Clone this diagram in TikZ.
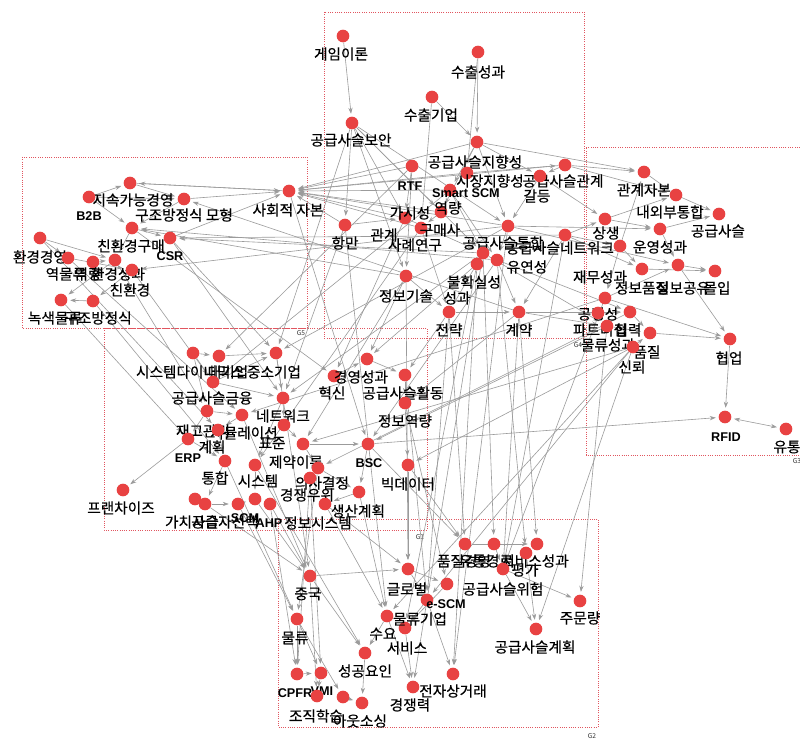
\documentclass[tikz,border=0pt]{standalone}
\usepackage{fontspec}
\setmainfont{Noto Sans CJK KR}
\newfontfamily\krb{Noto Sans CJK KR}[FakeBold=0.4]
\newfontfamily\latf{Liberation Sans}
\usetikzlibrary{arrows.meta}
\pgfdeclarelayer{bg}
\pgfsetlayers{bg,main}
\definecolor{dotred}{RGB}{232,66,66}
\definecolor{lnkgray}{RGB}{155,155,155}
\definecolor{boxred}{RGB}{225,85,95}
\newcommand\nd[4]{\node[rdot] (#1) at (#2) {}; \node[lbl] (#1-l) at (#3) {#4};}
\newcommand\lt[1]{{\latf\bfseries\fontsize{9.5}{10}\selectfont #1}}
\begin{document}
\begin{tikzpicture}[x=0.75pt,y=-0.75pt,
  rdot/.style={circle,fill=dotred,minimum size=9.5pt,inner sep=0pt},
  lbl/.style={font=\krb\fontsize{11}{12}\selectfont,inner sep=0pt,text=black},
  glab/.style={font=\fontsize{5}{5}\selectfont,inner sep=0pt,text=black!80},
  lnk/.style={draw=lnkgray,line width=0.45pt,-{Stealth[length=4.5pt,width=3.2pt]},shorten >=2pt},
  grp/.style={draw=boxred,densely dotted,line width=0.7pt}]
\useasboundingbox (0,0) rectangle (800,741);

% ---------- G5 ----------
\nd{jsg}{130,183}{133,200}{지속가능경영}
\nd{btb}{89,197}{89,216}{\lt{B2B}}
\nd{gjm}{184,199}{184,215}{구조방정식 모형}
\nd{shj}{289,191}{288,210}{사회적 자본}
\nd{chg}{132,228}{131,246}{친환경구매}
\nd{csr}{170,238}{170,256}{\lt{CSR}}
\nd{hgg}{40,238}{40,257}{환경경영}
\nd{ymr}{68,258}{66,274}{역물류}
\nd{yr}{93,262}{88,274}{역량}
\nd{hgs}{115,260}{118,274}{환경성과}
\nd{chk}{132,270}{130,290}{친환경}
\nd{nsm}{61,300}{55,318}{녹색물류}
\nd{gjb}{93,301}{98,318}{구조방정식}

% ---------- top centre ----------
\nd{gim}{343,36}{341,54}{게임이론}
\nd{gsb}{352,123}{351,140}{공급사슬보안}
\nd{scs}{478,52}{478,72}{수출성과}
\nd{scg}{432,97}{431,115}{수출기업}
\nd{gsj}{477,142}{475,162}{공급사슬지향성}
\nd{sjj}{467,173}{490,181}{시장지향성}
\nd{gsg}{565,165}{563,181}{공급사슬관계}
\nd{gd}{540,176}{537,196}{갈등}
\nd{rtf}{412,166}{410,186}{\lt{RTF}}
\nd{sms}{450,190}{466,193}{\lt{Smart SCM}}
\nd{yrt}{441,212}{448,208}{역량}
\nd{gss}{405,218}{410,213}{가시성}
\nd{gms}{421,228}{440,230}{구매사}
\node[lbl] (gg-l) at (384,235) {관계};
\node[lbl] (sry-l) at (415,245) {사례연구};
\nd{hm}{345,225}{345,243}{항만}
\nd{gst}{508,226}{503,243}{공급사슬통합}
\nd{gsn}{565,235}{560,248}{공급사슬네트워크}
\nd{jbg}{406,276}{406,296}{정보기술}
\nd{bhs}{483,253}{474,282}{불확실성}
\nd{sg}{477,264}{457,298}{성과}
\nd{yys}{497,260}{527,267}{유연성}
\nd{jr}{449,312}{449,330}{전략}
\nd{gy}{519,312}{519,330}{계약}

% ---------- right ----------
\nd{ggj}{644,172}{644,190}{관계자본}
\nd{nwb}{676,195}{670,212}{내외부통합}
\nd{gs}{719,214}{718,231}{공급사슬}
\nd{wys}{660,229}{660,247}{운영성과}
\nd{ss}{605,219}{606,233}{상생}
\nd{jms}{620,246}{600,277}{재무성과}
\nd{gjs}{605,298}{598,314}{공정성}
\nd{ptn}{598,313}{600,330}{파트너십}
\nd{hr}{630,312}{628,330}{협력}
\nd{mrs}{607,326}{608,345}{물류성과}
\nd{pj}{650,333}{647,352}{품질}
\nd{sr}{633,347}{632,367}{신뢰}
\nd{jbp}{642,269}{642,288}{정보품질}
\nd{jbgy}{678,265}{683,288}{정보공유}
\nd{mi}{715,271}{717,288}{몰입}
\nd{hu}{730,339}{729,358}{협업}
\nd{rfid}{725,417}{726,437}{\lt{RFID}}
\nd{yt}{786,429}{787,447}{유통}

% ---------- G1 ----------
\nd{sd}{193,353}{190,372}{시스템다이내믹스}
\nd{dg}{219,356}{228,372}{대기업}
\nd{jsk}{276,353}{274,372}{중소기업}
\nd{gsf}{213,382}{212,398}{공급사슬금융}
\nd{nw}{283,398}{283,416}{네트워크}
\nd{jgg}{207,411}{203,431}{재고관리}
\nd{sml}{242,415}{244,433}{시뮬레이션}
\nd{gh}{218,430}{212,447}{계획}
\nd{erp}{188,439}{188,458}{\lt{ERP}}
\nd{pj2}{284,425}{272,443}{표준}
\nd{jyi}{303,444}{296,462}{제약이론}
\nd{bsc}{368,444}{369,463}{\lt{BSC}}
\nd{th}{225,461}{215,478}{통합}
\nd{sst}{255,465}{258,481}{시스템}
\nd{ysg}{318,468}{322,483}{의사결정}
\nd{gjw}{310,478}{307,495}{경쟁우위}
\nd{sngh}{359,492}{358,511}{생산계획}
\nd{jbs}{325,504}{318,523}{정보시스템}
\nd{ahp}{270,504}{269,523}{\lt{AHP}}
\nd{scm1}{255,499}{245,518}{\lt{SCM}}
\nd{gjss}{238,504}{225,522}{공급자선택}
\nd{gcs}{205,504}{192,522}{가치사슬}
\node[rdot] (xd1) at (195,499) {};
\nd{frc}{123,490}{121,508}{프랜차이즈}
\nd{hs}{334,376}{332,393}{혁신}
\nd{gys}{367,359}{361,377}{경영성과}
\nd{gsh}{405,375}{403,393}{공급사슬활동}
\nd{jby}{405,403}{405,421}{정보역량}
\nd{bdt}{408,465}{408,484}{빅데이터}

% ---------- G2 ----------
\nd{jg}{310,576}{308,594}{중국}
\nd{mr}{297,619}{295,638}{물류}
\nd{cpfr}{297,674}{295,693}{\lt{CPFR}}
\nd{vmi}{321,673}{322,691}{\lt{VMI}}
\nd{jjh}{317,696}{316,716}{조직학습}
\node[rdot] (xd2) at (343,697) {};
\nd{aos}{362,703}{360,721}{아웃소싱}
\nd{sgy}{365,653}{365,671}{성공요인}
\nd{sy}{387,616}{383,634}{수요}
\nd{sbs}{405,628}{407,648}{서비스}
\nd{gjr}{413,687}{410,705}{경쟁력}
\nd{jjs}{453,674}{453,691}{전자상거래}
\nd{glb}{408,569}{407,589}{글로벌}
\nd{mrg}{427,600}{420,619}{물류기업}
\nd{scm2}{447,584}{446,604}{\lt{e-SCM}}
\nd{pjg}{465,544}{464,561}{품질경영}
\nd{ytg}{494,544}{486,561}{유통경로}
\nd{sbss}{537,544}{535,561}{서비스성과}
\nd{pg}{526,553}{525,570}{평가}
\nd{gsw}{503,569}{503,589}{공급사슬위험}
\nd{jml}{580,601}{580,618}{주문량}
\nd{gsgh}{536,629}{535,647}{공급사슬계획}

\begin{pgfonlayer}{bg}
\fill[white] (0,0) rectangle (800,741);
% group boxes
\draw[grp] (22,157) rectangle (307,328);
\draw[grp] (324,12) rectangle (584,338);
\draw[grp] (800,147) -- (586,147) -- (586,455) -- (800,455);
\draw[grp] (104,328) rectangle (427,530);
\draw[grp] (278,519) rectangle (598,727);
\node[glab] (g5) at (301,333) {G5};
\node[glab] (g4) at (578,345) {G4};
\node[glab] (g3) at (797,461) {G3};
\node[glab] (g1) at (420,537) {G1};
\node[glab] (g2) at (592,736) {G2};

\foreach \a/\b in {gim/gsb, scs/gsj, scs/sjj, scg/gsj, scg/gms, gsb/hm, gsb/gss, gsb/jbg, gsb/yrt, gsb/gst, gsb/bhs,
 gsj/shj, sjj/shj, rtf/shj, gss/shj, gms/shj, gst/shj, gsg/shj, yrt/shj, sms/shj, hm/shj,
 gsj/sms, gsj/gst, gsj/gd, sjj/gsg, gsg/gd, gd/gst, sms/bhs, rtf/gss, gss/bhs, gms/jr, bhs/jr, yys/gy, jr/gy, jbg/jr,
 gst/yys, gsn/gy, rtf/jbg, hm/gss, yrt/gms, sms/yys, gsj/yrt,
 gsg/ggj, ggj/nwb, nwb/gs, wys/gs, ss/wys, jms/jbp, jbgy/hu, gjs/hu, pj/hu, hu/rfid, bsc/rfid, jbp/mi, jbgy/mi, hr/pj,
 gjs/jbgy, ss/nwb, jms/ggj, gst/jbgy, gst/wys, gsn/jbp, yys/hr, bhs/mrs, gd/ss, gsj/ggj, gsn/ss, gy/mrs, gy/hr,
 gsg/nwb, mrs/pj, ptn/hr, sr/pj, jms/gjs, wys/jbgy, gsn/jms,
 gsn/csr, yys/chg, gst/chk, bhs/csr, jbg/chg, gy/gjm,
 btb/jsg, shj/jsg, gjm/shj, jsg/shj, chg/csr, btb/chg, hgg/ymr, hgg/hgs, ymr/chk, yr/hgs, chk/gjb, hgs/nsm, chg/hgs,
 csr/shj, gjm/chg, gjb/nsm, btb/gjm, jsg/gjm,
 chk/gsf, hgs/jgg, csr/jsk, nsm/erp, ymr/sml, gjb/th, chg/hs, shj/bsc, csr/nw, hgg/gh,
 gsb/jsk, hm/nw, jbg/gys, gss/hs, gst/jsk, bhs/nw, sms/gsf, jr/gsh, gy/jby, sg/gys, yys/bsc, rtf/dg, gms/sst, jbg/jyi,
 sr/jyi, sr/bdt, mrs/bsc, gjs/sml, hr/ysg,
 dg/jsk, gsf/jsk, sd/gsf, gsf/nw, jgg/sml, sml/gh, gh/th, erp/th, erp/frc, th/gcs, sst/scm1, ysg/gjw, jyi/ysg, pj2/jyi,
 nw/pj2, hs/gys, gys/gsh, gsh/jby, jby/bdt, jyi/bsc, sngh/jbs, ysg/sngh, gcs/gjss, gjss/scm1, scm1/ahp, xd1/gcs, sd/dg,
 jsk/nw, nw/sst, bsc/sngh, jgg/erp, sd/jgg,
 gcs/jg, gjss/mr, scm1/jg, ahp/jg, jbs/glb, sngh/sy, bdt/glb, bsc/pjg, ysg/mr, gjw/cpfr, jby/scm2, gsh/mrg, th/mr,
 sst/sgy, sml/jg, jsk/jg, ahp/cpfr, jbs/sy, gjw/vmi, bdt/pjg,
 jr/pjg, gy/sbss, bhs/ytg, yys/pg, gsn/gsw, jbg/glb, sg/sbs, gst/jjs, mrs/jml, sr/gsgh, sr/sy, sr/mrg, gjs/gsw, jr/mrg,
 sg/jjs, bhs/gjr, hm/sy, gy/gsw,
 jg/sgy, mr/cpfr, vmi/jjh, sgy/aos, sy/sgy, sbs/gjr, glb/scm2, mrg/sbs, scm2/sbs, pjg/sbss, gsw/gsgh, pg/gsgh, gsw/jml,
 ytg/gsw, glb/mrg, mrg/jjs, jg/glb, cpfr/vmi, mr/vmi, xd2/aos, sy/gjr, jg/jjh, mr/xd2}
  \draw[lnk] (\a) -- (\b);
\draw[lnk,{Stealth[length=4.5pt,width=3.2pt]}-{Stealth[length=4.5pt,width=3.2pt]},shorten <=2pt] (rfid) -- (yt);
\end{pgfonlayer}
\end{tikzpicture}
\end{document}
